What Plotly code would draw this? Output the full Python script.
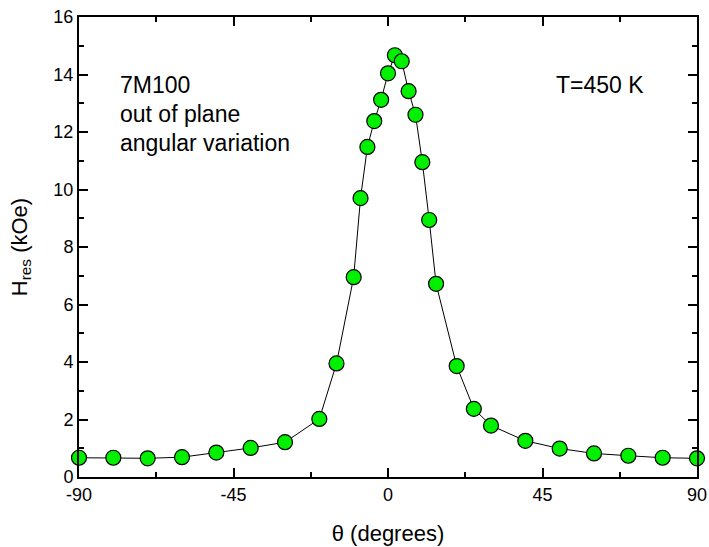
import plotly.graph_objects as go

theta = [-90, -80, -70, -60, -50, -40, -30, -20, -15, -10, -8, -6, -4, -2, 0, 2, 4,
         6, 8, 10, 12, 14, 20, 25, 30, 40, 50, 60, 70, 80, 90]
h_res = [0.67, 0.67, 0.65, 0.69, 0.85, 1.01, 1.21, 2.02, 3.95, 6.95, 9.7, 11.48, 12.38,
         13.12, 14.04, 14.67, 14.46, 13.42, 12.6, 10.95, 8.94, 6.72, 3.86, 2.37, 1.79,
         1.26, 0.99, 0.82, 0.74, 0.67, 0.65]

x_ticks = [-90, -45, 0, 45, 90]
y_ticks = [0, 2, 4, 6, 8, 10, 12, 14, 16]

font = "Liberation Sans, Arial, sans-serif"

fig = go.Figure()
fig.add_trace(go.Scatter(
    x=theta, y=h_res, mode="lines+markers",
    line=dict(color="black", width=1),
    marker=dict(size=15, color="#00f000", line=dict(color="black", width=1.2)),
    cliponaxis=False, showlegend=False,
))

axis_common = dict(
    showline=True, linecolor="black", linewidth=2, mirror="allticks",
    ticks="inside", ticklen=9, tickwidth=1.5, tickcolor="black",
    showgrid=False, zeroline=False, automargin=False,
    tickfont=dict(family=font, size=18, color="black"),
)

fig.update_xaxes(
    range=[-90, 90], tickvals=x_ticks, ticktext=[str(v) for v in x_ticks],
    minor=dict(ticks="inside", ticklen=5, tickwidth=1.5, tickcolor="black", dtick=22.5, tick0=-90),
    title=dict(text="θ (degrees)", font=dict(family=font, size=22, color="black"), standoff=22),
    **axis_common,
)
fig.update_yaxes(
    range=[0, 16], tickvals=y_ticks, ticktext=[str(v) for v in y_ticks],
    minor=dict(ticks="inside", ticklen=5, tickwidth=1.5, tickcolor="black", dtick=1, tick0=0),
    title=dict(text="H<sub>res</sub> (kOe)", font=dict(family=font, size=22, color="black"), standoff=20),
    **axis_common,
)

txt = dict(family=font, size=23, color="black")
fig.add_annotation(x=-78.6, y=13.63, xref="x", yref="y", xanchor="left", yanchor="middle",
                   text="7M100", showarrow=False, align="left", font=txt)
fig.add_annotation(x=-78.6, y=12.63, xref="x", yref="y", xanchor="left", yanchor="middle",
                   text="out of plane", showarrow=False, align="left", font=txt)
fig.add_annotation(x=-78.6, y=11.63, xref="x", yref="y", xanchor="left", yanchor="middle",
                   text="angular variation", showarrow=False, align="left", font=txt)
fig.add_annotation(x=48.4, y=13.65, xref="x", yref="y", xanchor="left", yanchor="middle",
                   text="T=450 K", showarrow=False, align="left", font=txt)

fig.update_layout(
    width=709, height=547,
    margin=dict(l=79, r=12, t=17, b=70),
    paper_bgcolor="white", plot_bgcolor="white",
)

fig.write_html("out.html", config={"displayModeBar": False},
               post_script="document.body.style.margin='0';")
